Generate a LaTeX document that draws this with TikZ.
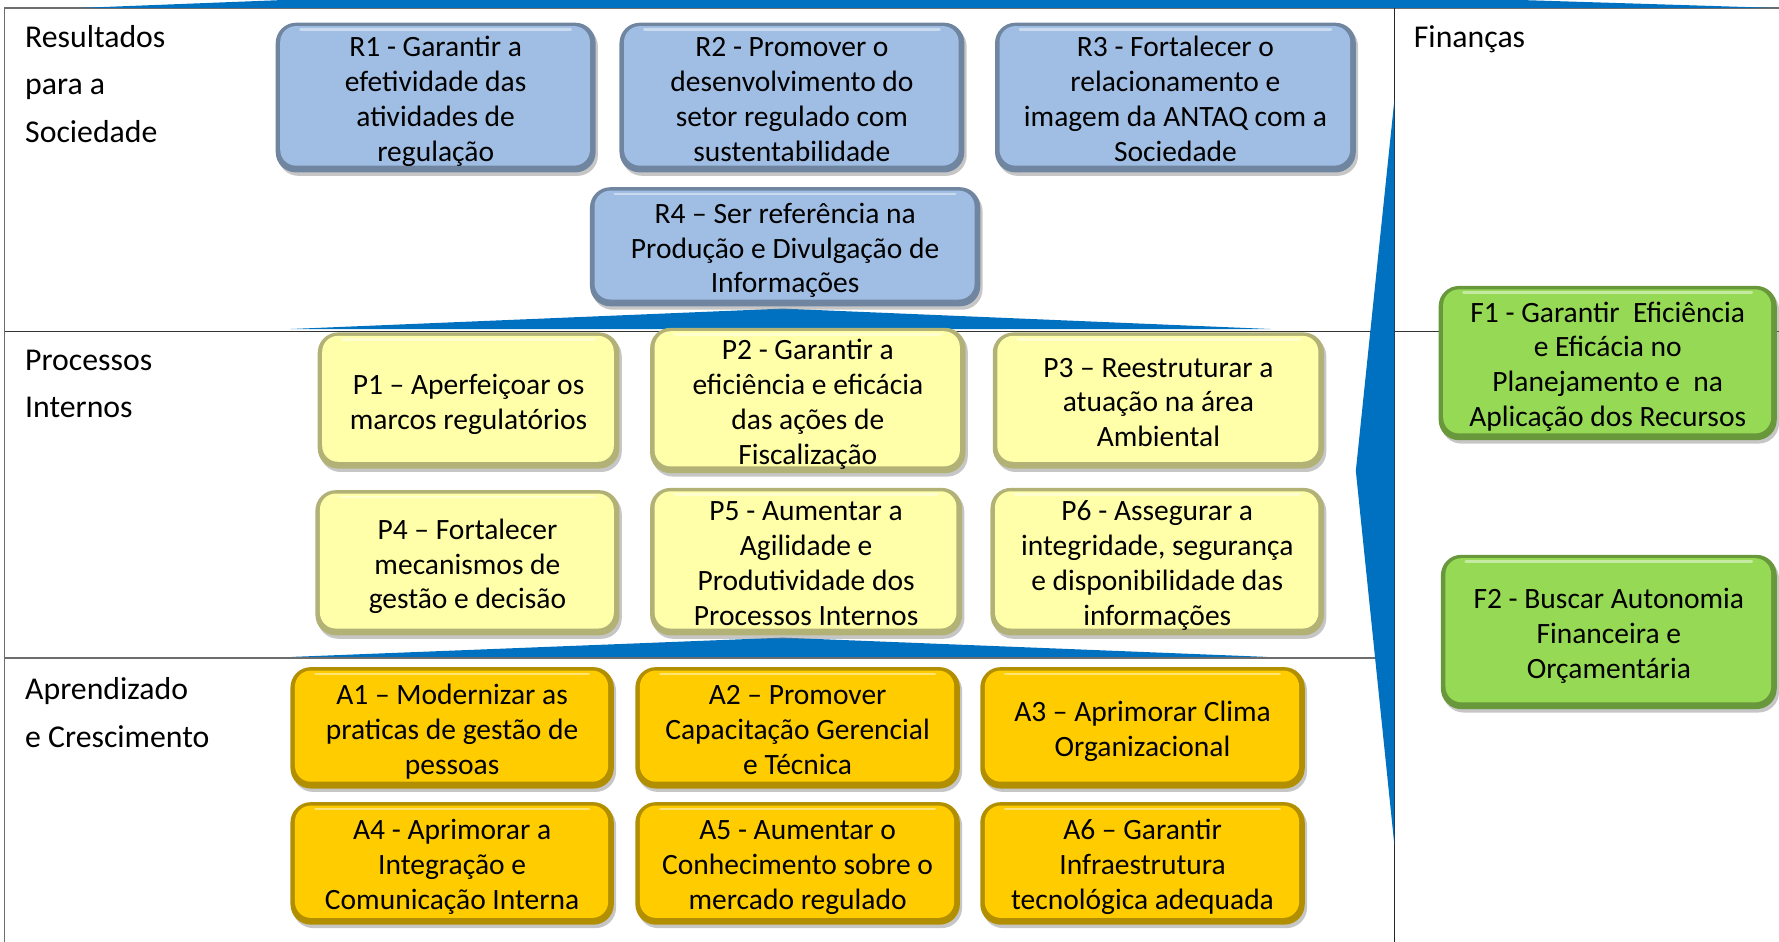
\documentclass[tikz,border=0pt]{standalone}
\usepackage{fontspec}
\setmainfont{Carlito}
\usepackage{tikz}
\usetikzlibrary{shadows}

\definecolor{azul}{HTML}{0070C0}
\definecolor{rfill}{HTML}{A0BEE4}
\definecolor{pfill}{HTML}{FFFFAA}
\definecolor{afill}{HTML}{FFCC00}
\definecolor{ffill}{HTML}{96D955}
\definecolor{linha}{HTML}{6D6D6D}

% Stuetzen fuer erste und letzte Zeile
\newcommand{\ob}{\rule{0pt}{28pt}}
\newcommand{\zeileunten}{\rule[-8pt]{0pt}{8pt}}

\begin{document}
\begin{tikzpicture}[x=1pt,y=-1pt,
		obj/.style={rounded corners=18pt,align=center,inner sep=0pt,
			fill=#1!70!black,
			path picture={
				\fill[#1,rounded corners=14pt] ([shift={(4pt,-3pt)}]path picture bounding box.north west) rectangle ([shift={(-5pt,6pt)}]path picture bounding box.south east);
				\draw[white,opacity=0.45,line width=2.5pt,line cap=round] ([shift={(22pt,-6pt)}]path picture bounding box.north west) -- ([shift={(-22pt,-6pt)}]path picture bounding box.north east);},
			font=\fontsize{26}{30.7}\selectfont,
			execute at end node=\zeileunten,
			drop shadow={shadow xshift=2pt,shadow yshift=-3pt,opacity=0.45}},
		rbox/.style={obj=rfill},
		pbox/.style={obj=pfill},
		abox/.style={obj=afill},
		finbox/.style={obj=ffill},
		lbl/.style={anchor=north west,align=left,inner sep=0pt,font=\fontsize{28}{42}\selectfont}]
				\useasboundingbox (0,0) rectangle (1568,830);
				% Rahmen und Trennlinien
				\draw[linha,line width=1.5pt] (4,830) -- (4,7) -- (1568,7);
				\draw[black!80,line width=1.2pt] (4,292) -- (1568,292);
				\draw[linha,line width=1.5pt] (4,580) -- (1229,580);
				\draw[black!85,line width=1.2pt] (1229,7) -- (1229,830);
				% blaue Keile
				\fill[azul] (70,7) -- (250,0) -- (1340,0) -- (1565,7) -- cycle;
				\fill[azul] (256,290) -- (690,272) -- (1120,290) -- cycle;
				\fill[azul] (257,579) -- (690,562) -- (1117,579) -- cycle;
				\fill[azul] (1229,88) -- (1195,415) -- (1229,745) -- cycle;
				% Resultados
				\node[rbox,minimum width=282pt,minimum height=132pt] (r1) at (384,86) {\ob R1 - Garantir a\\efetividade das\\atividades de\\regulação};
				\node[rbox,minimum width=304pt,minimum height=132pt] (r2) at (698,86) {\ob R2 - Promover o\\desenvolvimento do\\setor regulado com\\sustentabilidade};
				\node[rbox,minimum width=318pt,minimum height=132pt] (r3) at (1036,86) {\ob R3 - Fortalecer o\\relacionamento e\\imagem da ANTAQ com a\\Sociedade};
				\node[rbox,minimum width=344pt,minimum height=105pt] (r4) at (692,217.5) {\ob R4 – Ser referência na\\Produção e Divulgação de\\Informações};
				% Processos
				\node[pbox,minimum width=266pt,minimum height=120pt] (p1) at (413,353) {\ob P1 – Aperfeiçoar os\\marcos regulatórios};
				\node[pbox,minimum width=278pt,minimum height=120pt] (p2) at (712,353) {\ob P2 - Garantir a\\eficiência e eficácia\\das ações de\\Fiscalização};
				\node[pbox,minimum width=292pt,minimum height=120pt] (p3) at (1021,353) {\ob P3 – Reestruturar a\\atuação na área\\Ambiental};
				\node[pbox,minimum width=268pt,minimum height=128pt] (p4) at (412,496) {\ob P4 – Fortalecer\\mecanismos de\\gestão e decisão};
				\node[pbox,minimum width=275pt,minimum height=130pt] (p5) at (710.5,495) {\ob P5 - Aumentar a\\Agilidade e\\Produtividade dos\\Processos Internos};
				\node[pbox,minimum width=294pt,minimum height=130pt] (p6) at (1020,495) {\ob P6 - Assegurar a\\integridade, segurança\\e disponibilidade das\\informações};
				% Aprendizado
				\node[abox,minimum width=285pt,minimum height=107pt] (a1) at (398.5,641.5) {\ob A1 – Modernizar as\\praticas de gestão de\\pessoas};
				\node[abox,minimum width=286pt,minimum height=107pt] (a2) at (703,641.5) {\ob A2 – Promover\\Capacitação Gerencial\\e Técnica};
				\node[abox,minimum width=286pt,minimum height=107pt] (a3) at (1007,641.5) {\ob A3 – Aprimorar Clima\\Organizacional};
				\node[abox,minimum width=285pt,minimum height=108pt] (a4) at (398.5,761) {\ob A4 - Aprimorar a\\Integração e\\Comunicação Interna};
				\node[abox,minimum width=286pt,minimum height=108pt] (a5) at (703,761) {\ob A5 - Aumentar o\\Conhecimento sobre o\\mercado regulado};
				\node[abox,minimum width=286pt,minimum height=108pt] (a6) at (1007,761) {\ob A6 – Garantir\\Infraestrutura\\tecnológica adequada};
				% Finanças
				\node[finbox,minimum width=298pt,minimum height=136pt] (f1) at (1417,320) {\ob F1 - Garantir\ \ Eficiência\\e Eficácia no\\Planejamento e\ \ na\\Aplicação dos Recursos};
				\node[finbox,minimum width=296pt,minimum height=136pt] (f2) at (1418,557) {\ob F2 - Buscar Autonomia\\Financeira e\\Orçamentária};
				% Perspektiven
				\node[lbl] (lres) at (22,22) {Resultados\\para a\\Sociedade};
				\node[lbl] (lfin) at (1246,22) {Finanças};
				\node[lbl] (lproc) at (22,308) {Processos\\Internos};
				\node[lbl] (lapr) at (22,597) {Aprendizado\\e Crescimento};
			\end{tikzpicture}
\end{document}
